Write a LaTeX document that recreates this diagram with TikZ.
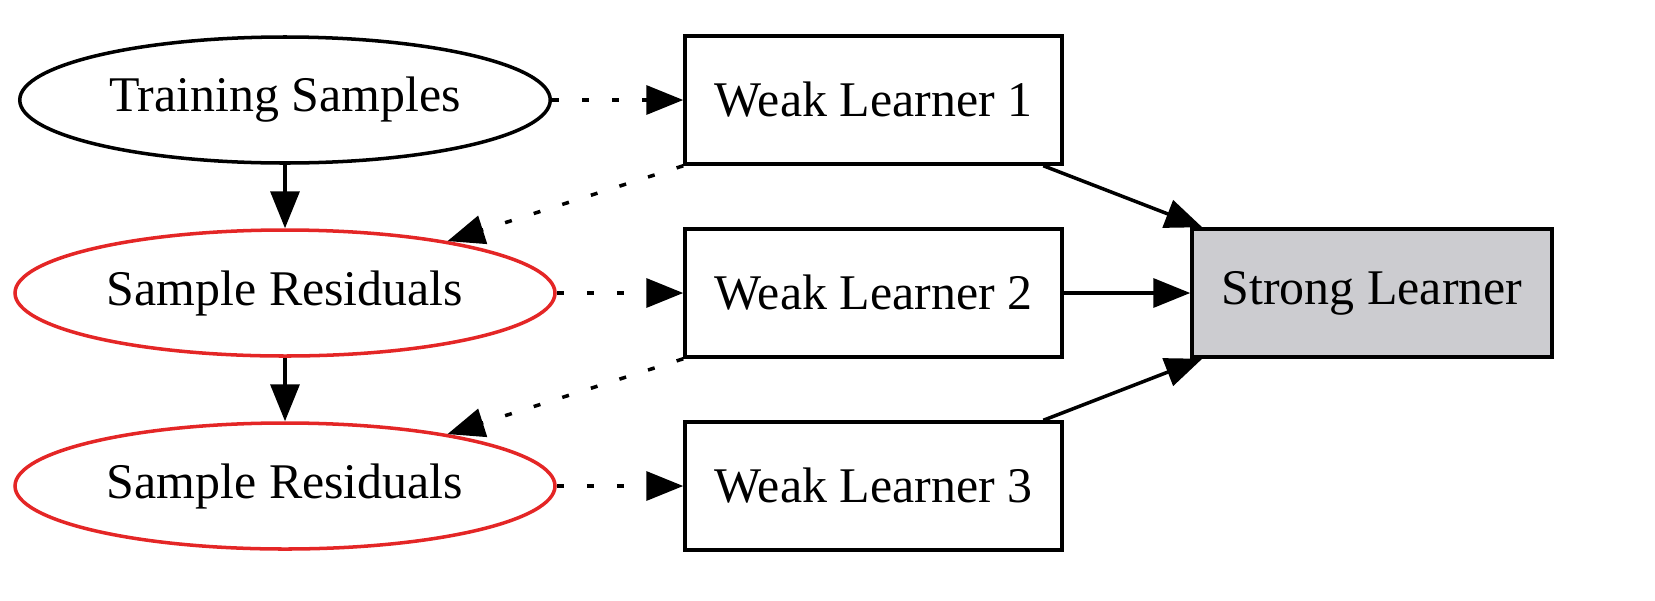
\documentclass[tikz,border=0pt]{standalone}
\usepackage{fontspec}
\setmainfont{Liberation Serif}
\usetikzlibrary{shapes.geometric, arrows.meta, positioning}
\definecolor{strongfill}{RGB}{204,204,208}
\definecolor{resred}{RGB}{228,38,38}
\tikzstyle{sample} = [ellipse, minimum width=5.3cm, minimum height=1.26cm, text centered, draw=black, line width=1pt, font=\fontsize{14.2}{16}\selectfont]
\tikzstyle{residual} = [sample, minimum width=5.4cm, draw=resred]
\tikzstyle{learner} = [rectangle, minimum width=3.77cm, minimum height=1.28cm, text centered, draw=black, line width=1pt, font=\fontsize{14.2}{16}\selectfont]
\tikzstyle{strong} = [learner, minimum width=3.6cm, fill=strongfill]
\tikzstyle{arrow} = [line width=1pt, -{Triangle[length=0.37cm, width=0.29cm]}]
\tikzstyle{dotarrow} = [arrow, dash pattern=on 0.07cm off 0.23cm]

\begin{document}
\begin{tikzpicture}[node distance=1.93cm]
	\useasboundingbox (0,0) rectangle (16.55,-6.0);
	\node (train) [sample] at (2.85,-1.0) {Training Samples};
	\node (res1) [residual, below of=train] {Sample Residuals};
	\node (res2) [residual, below of=res1] {Sample Residuals};
	\node (weak1) [learner, right of=train, xshift=3.955cm] {Weak Learner 1};
	\node (weak2) [learner, below of=weak1] {Weak Learner 2};
	\node (weak3) [learner, below of=weak2] {Weak Learner 3};
	\node (strong) [strong, right of=weak2, xshift=3.055cm] {Strong Learner};

	\draw [arrow] (train) -- (res1);
	\draw [arrow] (res1) -- (res2);
	\draw [dotarrow] (train) -- (weak1);
	\draw [dotarrow] (res1) -- (weak2);
	\draw [dotarrow] (res2) -- (weak3);
	\draw [dotarrow] (weak1.south west) -- (res1);
	\draw [dotarrow] (weak2.south west) -- (res2);
	\draw [arrow] (weak1) -- (strong);
	\draw [arrow] (weak2) -- (strong);
	\draw [arrow] (weak3) -- (strong);
\end{tikzpicture}
\end{document}
